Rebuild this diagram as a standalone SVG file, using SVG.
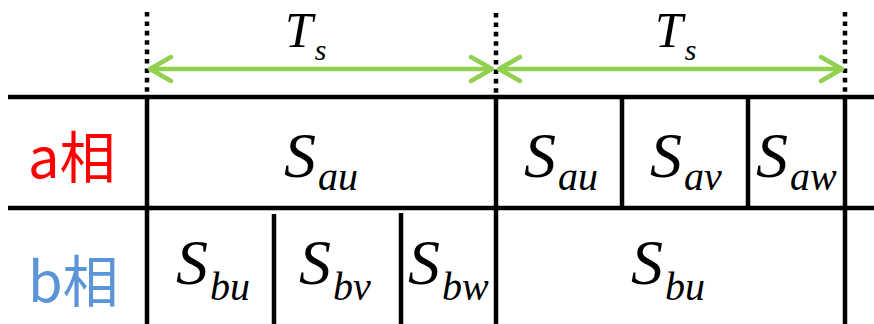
<svg xmlns="http://www.w3.org/2000/svg" width="874" height="324" viewBox="0 0 874 324">
<style>
.grid{stroke:#000;stroke-width:4.5;fill:none}
.dot{stroke:#000;stroke-width:4.5;stroke-dasharray:4.6 4.8;fill:none}
.arr{stroke:#92D050;stroke-width:4.5;fill:none;stroke-linecap:round;stroke-linejoin:round}
.m{font-family:"Liberation Serif","Times New Roman",serif;font-style:italic;fill:#000}
.S{font-size:64px}
.sub{font-size:40px}
.ph{font-family:"Noto Sans CJK SC","Noto Sans",sans-serif;font-size:56px}
</style>
<rect width="874" height="324" fill="#fff"/>
<g id="grid">
<line class="grid" x1="8" y1="97" x2="874" y2="97"/>
<line class="grid" x1="8" y1="208" x2="874" y2="208"/>
<line class="dot" x1="147" y1="12" x2="147" y2="97"/>
<line class="dot" x1="496" y1="13" x2="496" y2="97"/>
<line class="dot" x1="845" y1="12" x2="845" y2="97"/>
<line class="grid" x1="147" y1="95" x2="147" y2="324"/>
<line class="grid" x1="496" y1="95" x2="496" y2="324"/>
<line class="grid" x1="845" y1="95" x2="845" y2="324"/>
<line class="grid" x1="622" y1="97" x2="622" y2="208"/>
<line class="grid" x1="748" y1="97" x2="748" y2="208"/>
<line class="grid" x1="274" y1="214" x2="274" y2="324"/>
<line class="grid" x1="401" y1="213" x2="401" y2="324"/>
</g>
<g id="connectors">
<path class="arr" d="M150 69 H492 M171 57 L150 69 L171 81 M471 57 L492 69 L471 81"/>
<path class="arr" d="M499 69 H842 M520 57 L499 69 L520 81 M821 57 L842 69 L821 81"/>
</g>
<g id="ts1"><text class="m" x="285" y="47" font-size="50">T<tspan font-size="30" dx="2" dy="13">s</tspan></text></g>
<g id="ts2"><text class="m" x="655" y="47" font-size="50">T<tspan font-size="30" dx="2" dy="13">s</tspan></text></g>
<g id="label-a"><text class="ph" x="28" y="178" fill="#FF0000">a相</text></g>
<g id="label-b"><text class="ph" x="28" y="302" fill="#5B95D8">b相</text></g>
<g id="a-cell1"><text class="m S" x="284" y="177">S<tspan class="sub" dx="2" dy="13">au</tspan></text></g>
<g id="a-cell2"><text class="m S" x="524" y="177">S<tspan class="sub" dx="2" dy="13">au</tspan></text></g>
<g id="a-cell3"><text class="m S" x="650" y="177">S<tspan class="sub" dx="2" dy="13">av</tspan></text></g>
<g id="a-cell4"><text class="m S" x="756" y="177">S<tspan class="sub" dx="2" dy="13">aw</tspan></text></g>
<g id="b-cell1"><text class="m S" x="176" y="284">S<tspan class="sub" dx="2" dy="16">bu</tspan></text></g>
<g id="b-cell2"><text class="m S" x="299" y="284">S<tspan class="sub" dx="2" dy="16">bv</tspan></text></g>
<g id="b-cell3"><text class="m S" x="408" y="284">S<tspan class="sub" dx="2" dy="16">bw</tspan></text></g>
<g id="b-cell4"><text class="m S" x="631" y="284">S<tspan class="sub" dx="2" dy="16">bu</tspan></text></g>
</svg>
